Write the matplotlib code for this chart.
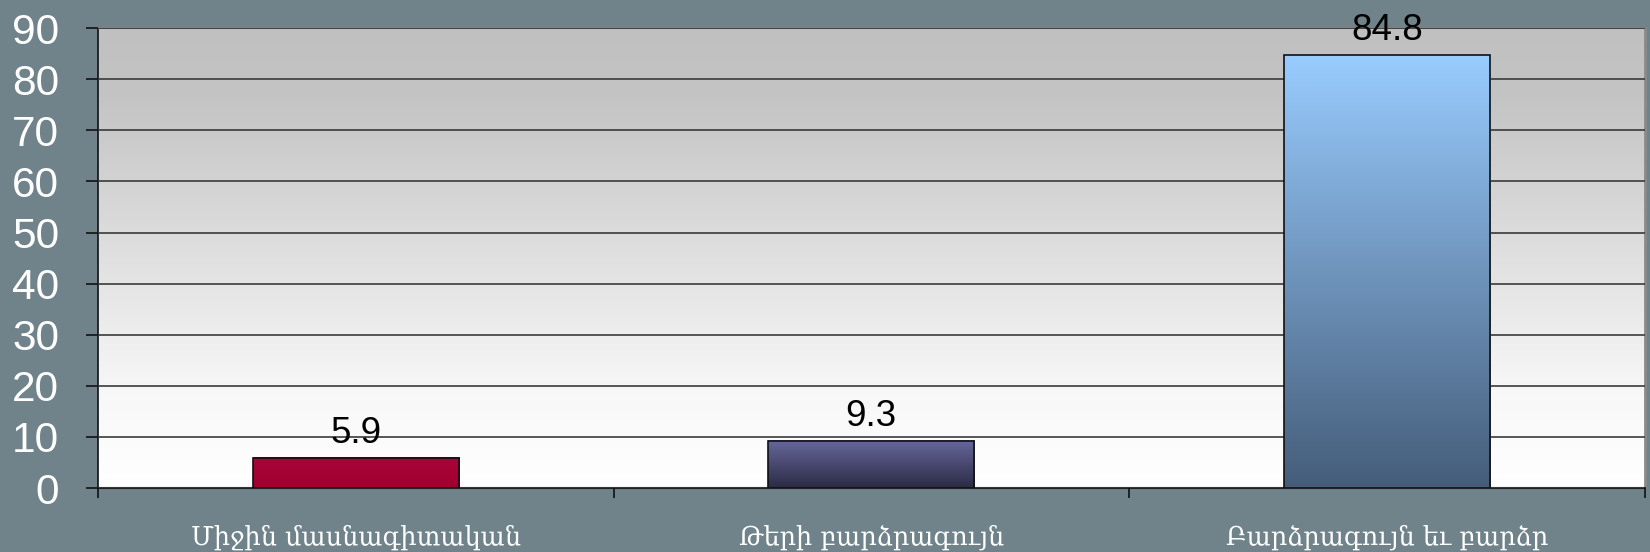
import numpy as np
import matplotlib
matplotlib.use("Agg")
import matplotlib.pyplot as plt
from matplotlib.colors import LinearSegmentedColormap

# donnees
categories = ["Միջին մասնագիտական", "Թերի բարձրագույն", "Բարձրագույն եւ բարձր"]
values = [5.9, 9.3, 84.8]
yticks = [0, 10, 20, 30, 40, 50, 60, 70, 80, 90]

# couleurs des barres (haut, bas)
bar_grad = [("#a8053a", "#a0002e"), ("#67679b", "#2b2b45"), ("#99ccff", "#455d7a")]

fig = plt.figure(figsize=(16.5, 5.52), dpi=100)
fig.patch.set_facecolor("#70838a")
ax = fig.add_axes([0.0594, 0.1159, 0.9373, 0.833])

x = np.arange(len(categories))
bars = ax.bar(x, values, width=0.4, facecolor="none", edgecolor="#111111",
              linewidth=1.2, zorder=4)

# fond degrade du graphique
grad = np.linspace(0, 1, 256).reshape(-1, 1)
bg = LinearSegmentedColormap.from_list("bg", [(0, "#ffffff"), (0.2, "#f8f8f8"),
                                              (0.85, "#c4c4c4"), (1, "#c0c0c0")])
ax.imshow(grad, cmap=bg, aspect="auto", origin="lower",
          extent=(-0.5, 2.5, 0, 90), zorder=0)

# degrade des barres
for b, (top, bot) in zip(bars, bar_grad):
    cm = LinearSegmentedColormap.from_list("b", [bot, top])
    ax.imshow(grad, cmap=cm, aspect="auto", origin="lower",
              extent=(b.get_x(), b.get_x() + b.get_width(), 0, b.get_height()),
              zorder=3)

for b, v in zip(bars, values):
    ax.annotate(f"{v}", (b.get_x() + b.get_width() / 2, v), xytext=(0, 10.5),
                textcoords="offset points", ha="center", va="baseline",
                fontsize=26.5, family="Liberation Sans", color="black", zorder=5)

ax.set_xlim(-0.5, 2.5)
ax.set_ylim(0, 90)

ax.set_yticks(yticks)
ax.set_yticklabels([str(t) for t in yticks], fontsize=30.5, family="Liberation Sans",
                   color="white")
ax.tick_params(axis="y", direction="out", length=9, width=1.2, color="#111111", pad=19)

ax.set_xticks([-0.5, 0.5, 1.5, 2.5])
ax.set_xticklabels([])
ax.tick_params(axis="x", which="major", direction="out", length=7, width=1.2,
               color="#111111")
ax.set_xticks(x, minor=True)
ax.set_xticklabels(categories, minor=True, fontsize=18.4,
                   family=["DejaVu Serif", "DejaVu Sans"], color="white")
ax.tick_params(axis="x", which="minor", length=0, pad=26)

ax.yaxis.grid(True, color="#3a3a3a", linewidth=1.2, zorder=1)
ax.set_axisbelow(False)
for gl in ax.get_ygridlines():
    gl.set_zorder(1)

ax.spines["left"].set_color("#111111")
ax.spines["left"].set_linewidth(1.2)
ax.spines["bottom"].set_color("#222222")
ax.spines["bottom"].set_linewidth(1.5)
ax.spines["top"].set_color("#808080")
ax.spines["top"].set_linewidth(1.5)
ax.spines["right"].set_color("#8a8a8a")
ax.spines["right"].set_linewidth(2)

plt.savefig("out.png", dpi=100, facecolor=fig.get_facecolor())
